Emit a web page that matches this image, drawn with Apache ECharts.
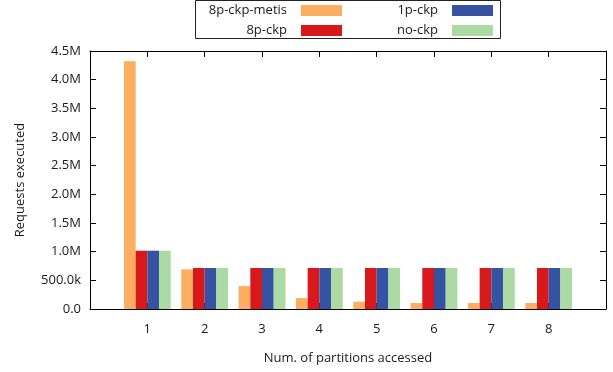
<!DOCTYPE html>
<html>
<head>
<meta charset="utf-8">
<script src="https://cdn.jsdelivr.net/npm/echarts@6/dist/echarts.min.js"></script>
<style>
  html, body { margin: 0; padding: 0; background: #fff; }
  #chart { width: 613px; height: 372px; }
</style>
</head>
<body>
<div id="chart"></div>
<script>
// Number of partitions each request touched
const partitions = [1, 2, 3, 4, 5, 6, 7, 8];

// Requests executed per configuration
const seriesNames = ['8p-ckp-metis', '8p-ckp', '1p-ckp', 'no-ckp'];
const metis = [4320000, 692000, 400000, 190000, 127000, 105000, 105000, 105000];
const ckp8 = [1017000, 715000, 715000, 715000, 715000, 715000, 715000, 715000];
const ckp1 = [1017000, 715000, 715000, 715000, 715000, 715000, 715000, 715000];
const noCkp = [1017000, 715000, 715000, 715000, 715000, 715000, 715000, 715000];

const colors = ['#fdae61', '#d7191c', '#3652a3', '#abdaa3'];
const valuesBySeries = [metis, ckp8, ckp1, noCkp];

const FONT = 'Open Sans';
const TEXT = '#1a1a1a';

function yLabel(v) {
  if (v === 0) return '0.0';
  if (v < 1000000) return (v / 1000).toFixed(1) + 'k';
  return (v / 1000000).toFixed(1) + 'M';
}

const chart = echarts.init(document.getElementById('chart'));

const legendPos = [
  { right: 271, top: 4 },
  { right: 271, top: 24 },
  { right: 120, top: 4 },
  { right: 120, top: 24 }
];

const series = seriesNames.map((name, i) => ({
  name: name,
  type: 'bar',
  xAxisIndex: 0,
  yAxisIndex: 0,
  barWidth: 11.7,
  barGap: '0%',
  itemStyle: { color: colors[i] },
  data: partitions.map((p, k) => [p, valuesBySeries[i][k]])
}));

const axisLine = { show: true, onZero: false, lineStyle: { color: '#000', width: 1 } };
const axisTick = { show: true, inside: true, length: 6, lineStyle: { color: '#000' } };

const option = {
  animation: false,
  backgroundColor: '#fff',
  textStyle: { fontFamily: FONT },
  grid: { left: 90, right: 7, top: 51, bottom: 63 },
  legend: seriesNames.map((name, i) => ({
    data: [name],
    align: 'right',
    right: legendPos[i].right,
    top: legendPos[i].top,
    padding: 0,
    itemWidth: 41,
    itemHeight: 11,
    icon: 'rect',
    selectedMode: false,
    textStyle: { fontFamily: FONT, fontSize: 13, color: TEXT, padding: [0, 9, 0, 0] }
  })),
  graphic: [{
    type: 'rect',
    shape: { x: 195.5, y: 0.5, width: 305, height: 38 },
    style: { fill: 'none', stroke: '#222', lineWidth: 1 },
    z: 100
  }],
  xAxis: [{
    type: 'value',
    min: 0, max: 9, interval: 1,
    position: 'bottom',
    name: 'Num. of partitions accessed',
    nameLocation: 'middle',
    nameGap: 43,
    nameTextStyle: { fontFamily: FONT, fontSize: 13, color: TEXT },
    axisLine: axisLine,
    axisTick: axisTick,
    axisLabel: {
      margin: 14, fontFamily: FONT, fontSize: 13, color: TEXT,
      formatter: v => (v >= 1 && v <= 8) ? String(v) : ''
    },
    splitLine: { show: false }
  }, {
    type: 'value',
    min: 0, max: 9, interval: 1,
    position: 'top',
    axisLine: axisLine,
    axisTick: axisTick,
    axisLabel: { show: false },
    splitLine: { show: false }
  }],
  yAxis: [{
    type: 'value',
    min: 0, max: 4500000, interval: 500000,
    position: 'left',
    name: 'Requests executed',
    nameLocation: 'middle',
    nameRotate: 90,
    nameGap: 63,
    nameTextStyle: { fontFamily: FONT, fontSize: 13, color: TEXT },
    axisLine: axisLine,
    axisTick: axisTick,
    axisLabel: { margin: 9, fontFamily: FONT, fontSize: 13, color: TEXT, formatter: yLabel },
    splitLine: { show: false }
  }, {
    type: 'value',
    min: 0, max: 4500000, interval: 500000,
    position: 'right',
    axisLine: axisLine,
    axisTick: axisTick,
    axisLabel: { show: false },
    splitLine: { show: false }
  }],
  series: series
};

chart.setOption(option);
</script>
</body>
</html>
